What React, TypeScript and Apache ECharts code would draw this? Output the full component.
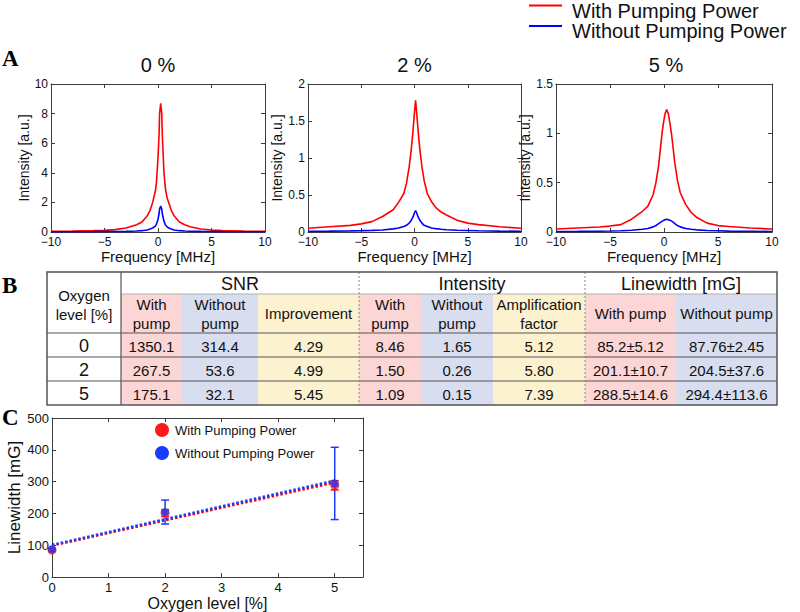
import React, { useEffect, useRef } from 'react';
import * as echarts from 'echarts';

// ---------- Panel A data ----------
const freq0 = [-10, -8, -6, -5, -4, -3, -2, -1.5, -1, -0.75, -0.5, -0.25, -0.15, 0, 0.1, 0.15, 0.25, 0.35, 0.4, 0.55, 0.7, 0.85, 1, 1.25, 1.5, 2, 2.5, 3, 4, 5, 6, 8, 10];
const red0 = [0.04, 0.06, 0.09, 0.11, 0.16, 0.27, 0.49, 0.68, 1.1, 1.45, 2.0, 2.75, 3.3, 5.0, 6.6, 8.0, 8.7, 8.0, 6.6, 4.1, 2.9, 2.3, 2.0, 1.45, 1.1, 0.68, 0.49, 0.36, 0.2, 0.13, 0.1, 0.06, 0.04];
const blue0 = [0.02, 0.02, 0.025, 0.03, 0.035, 0.045, 0.07, 0.09, 0.14, 0.2, 0.27, 0.4, 0.52, 0.85, 1.25, 1.55, 1.75, 1.55, 1.25, 0.75, 0.47, 0.35, 0.27, 0.2, 0.14, 0.09, 0.07, 0.055, 0.04, 0.03, 0.025, 0.02, 0.02];

const freq2 = [-10, -8, -6, -5, -4, -3, -2, -1.5, -1, -0.75, -0.5, -0.3, -0.15, 0, 0.1, 0.2, 0.35, 0.5, 0.7, 0.9, 1.2, 1.6, 2, 2.5, 3, 4, 5, 6, 8, 10];
const red2 = [0.05, 0.07, 0.09, 0.11, 0.14, 0.21, 0.3, 0.4, 0.52, 0.66, 0.88, 1.12, 1.35, 1.62, 1.78, 1.62, 1.35, 1.12, 0.88, 0.7, 0.52, 0.41, 0.33, 0.27, 0.23, 0.16, 0.12, 0.1, 0.07, 0.05];
const blue2 = [0.01, 0.012, 0.015, 0.018, 0.022, 0.028, 0.042, 0.055, 0.075, 0.09, 0.12, 0.16, 0.2, 0.26, 0.29, 0.26, 0.2, 0.16, 0.12, 0.09, 0.075, 0.055, 0.045, 0.037, 0.03, 0.024, 0.02, 0.016, 0.012, 0.01];

const freq5 = [-10, -8, -6, -5, -4, -3, -2, -1.5, -1, -0.75, -0.5, -0.3, -0.15, 0, 0.1, 0.25, 0.4, 0.55, 0.7, 0.85, 1, 1.25, 1.5, 2, 2.5, 3, 4, 5, 6, 8, 10];
const red5 = [0.03, 0.04, 0.05, 0.06, 0.075, 0.13, 0.21, 0.26, 0.38, 0.5, 0.67, 0.88, 1.03, 1.14, 1.2, 1.24, 1.2, 1.1, 0.99, 0.85, 0.7, 0.52, 0.4, 0.28, 0.2, 0.15, 0.09, 0.065, 0.055, 0.04, 0.03];
const blue5 = [0.005, 0.006, 0.008, 0.01, 0.013, 0.018, 0.028, 0.035, 0.052, 0.065, 0.085, 0.1, 0.11, 0.12, 0.125, 0.13, 0.125, 0.12, 0.11, 0.1, 0.085, 0.065, 0.052, 0.035, 0.028, 0.022, 0.015, 0.012, 0.009, 0.007, 0.005];

const panelTitles = ['0 %', '2 %', '5 %'];
const yMaxA = [10, 2, 1.5];
const yIntA = [2, 0.5, 0.5];

// ---------- Panel B table ----------
const groupHeaders = ['SNR', 'Intensity', 'Linewidth [mG]'];
const subHeaders = ['With\npump', 'Without\npump', 'Improvement', 'With\npump', 'Without\npump', 'Amplification\nfactor', 'With pump', 'Without pump'];
const oxygenRows = ['0', '2', '5'];
const snrWith = ['1350.1', '267.5', '175.1'];
const snrWithout = ['314.4', '53.6', '32.1'];
const snrImprovement = ['4.29', '4.99', '5.45'];
const intWith = ['8.46', '1.50', '1.09'];
const intWithout = ['1.65', '0.26', '0.15'];
const ampFactor = ['5.12', '5.80', '7.39'];
const lwWithText = ['85.2±5.12', '201.1±10.7', '288.5±14.6'];
const lwWithoutText = ['87.76±2.45', '204.5±37.6', '294.4±113.6'];

// ---------- Panel C data ----------
const oxygenLevels = [0, 2, 5];
const lwWith = [85.2, 201.1, 288.5];
const lwWithErr = [5.12, 10.7, 14.6];
const lwWithout = [87.76, 204.5, 294.4];
const lwWithoutErr = [2.45, 37.6, 113.6];
const fitWithX = [0, 5];
const fitWithY = [98.9, 297.6];
const fitWithoutX = [0, 5];
const fitWithoutY = [101.2, 303.4];

const SANS = 'Liberation Sans, Arial, sans-serif';
const SERIF = 'Liberation Serif, Times New Roman, serif';
const AX = '#3c3c3c';
const RED = '#ff0000';
const BLUE = '#0000ff';

const PINK = '#fcd6d4';
const LBLUE = '#d8deef';
const YEL = '#fdf2cf';

function fmtNum(v: number) {
  if (v < 0) return '\u2212' + String(Math.abs(v));
  return String(v);
}

function axesFor(gi: number, xr: number[], yr: number[], xName: string, yName: string, xNameGap: number, yNameGap: number, xNameSize: number, yNameSize: number, labelSize: number, xFmt: (v: number) => string) {
  const common = {
    gridIndex: gi,
    type: 'value',
    splitLine: { show: false },
    axisLine: { show: true, onZero: false, lineStyle: { color: AX, width: 1 } },
    axisTick: { show: true, inside: true, length: 4, lineStyle: { color: AX, width: 1 } },
  };
  const xs = [
    {
      ...common, position: 'bottom', min: xr[0], max: xr[1], interval: xr[2],
      axisLabel: { color: '#111', fontSize: labelSize, fontFamily: SANS, margin: 4, formatter: xFmt },
      name: xName, nameLocation: 'middle', nameGap: xNameGap,
      nameTextStyle: { color: '#111', fontSize: xNameSize, fontFamily: SANS },
    },
    { ...common, position: 'top', min: xr[0], max: xr[1], interval: xr[2], axisLabel: { show: false } },
  ];
  const ys = [
    {
      ...common, position: 'left', min: yr[0], max: yr[1], interval: yr[2],
      axisLabel: { color: '#111', fontSize: labelSize, fontFamily: SANS, margin: 3 },
      name: yName, nameLocation: 'middle', nameGap: yNameGap,
      nameTextStyle: { color: '#111', fontSize: yNameSize, fontFamily: SANS },
    },
    { ...common, position: 'right', min: yr[0], max: yr[1], interval: yr[2], axisLabel: { show: false } },
  ];
  return { xs, ys };
}

function buildTable() {
  const colX = [47, 121, 182, 258, 359, 421, 493, 585, 676, 777];
  const rowY = [272, 294, 333, 357, 381, 405];
  const colColors = [PINK, LBLUE, YEL, PINK, LBLUE, YEL, PINK, LBLUE];
  const els: any[] = [];
  colColors.forEach((c, i) => {
    els.push({ type: 'rect', shape: { x: colX[i + 1], y: rowY[1], width: colX[i + 2] - colX[i + 1], height: rowY[5] - rowY[1] }, style: { fill: c }, silent: true });
  });
  els.push({ type: 'line', shape: { x1: colX[1], y1: rowY[1], x2: colX[9], y2: rowY[1] }, style: { stroke: '#b0b0b0', lineWidth: 1 } });
  [2, 3, 4].forEach((r) => {
    els.push({ type: 'line', shape: { x1: colX[0], y1: rowY[r], x2: colX[9], y2: rowY[r] }, style: { stroke: '#555', lineWidth: 1.2 } });
  });
  els.push({ type: 'line', shape: { x1: colX[1], y1: rowY[0], x2: colX[1], y2: rowY[5] }, style: { stroke: '#555', lineWidth: 1.2 } });
  [4, 7].forEach((c) => {
    els.push({ type: 'line', shape: { x1: colX[c], y1: rowY[0], x2: colX[c], y2: rowY[5] }, style: { stroke: '#888', lineWidth: 1, lineDash: [2, 2] } });
  });
  els.push({ type: 'rect', shape: { x: colX[0], y: rowY[0], width: colX[9] - colX[0], height: rowY[5] - rowY[0] }, style: { fill: 'none', stroke: '#555', lineWidth: 1.5 } });

  const txt = (x: number, y: number, t: string, size: number, lh = 19) => ({
    type: 'text', x, y,
    style: { text: t, fill: '#111', font: `${size}px ${SANS}`, align: 'center', verticalAlign: 'middle', lineHeight: lh },
  });
  const groupSpans = [[1, 4], [4, 7], [7, 9]];
  groupHeaders.forEach((g, i) => {
    const cx = (colX[groupSpans[i][0]] + colX[groupSpans[i][1]]) / 2;
    els.push(txt(cx, (rowY[0] + rowY[1]) / 2 + 1, g, 18));
  });
  els.push(txt((colX[0] + colX[1]) / 2, 305, 'Oxygen\nlevel [%]', 15, 19));
  subHeaders.forEach((s, i) => {
    els.push(txt((colX[i + 1] + colX[i + 2]) / 2, (rowY[1] + rowY[2]) / 2, s, 15, 19));
  });
  const cols = [oxygenRows, snrWith, snrWithout, snrImprovement, intWith, intWithout, ampFactor, lwWithText, lwWithoutText];
  cols.forEach((col, c) => {
    col.forEach((v, r) => {
      els.push(txt((colX[c] + colX[c + 1]) / 2, (rowY[r + 2] + rowY[r + 3]) / 2 + 1, v, c === 0 ? 18 : 15));
    });
  });
  return els;
}

export default function App() {
  const ref = useRef<HTMLDivElement>(null);
  useEffect(() => {
    if (!ref.current) return;
    const chart = echarts.init(ref.current, undefined, { renderer: 'svg' });

    const grids = [
      { left: 51, top: 84, width: 214, height: 148 },
      { left: 308, top: 84, width: 213, height: 148 },
      { left: 556, top: 84, width: 216, height: 148 },
      { left: 52, top: 418, width: 311, height: 164 },
    ];
    const xAxes: any[] = [];
    const yAxes: any[] = [];
    const yGapA = [18, 20, 16];
    for (let i = 0; i < 3; i++) {
      const a = axesFor(i, [-10, 10, 5], [0, yMaxA[i], yIntA[i]], 'Frequency [MHz]', 'Intensity [a.u.]', 12, yGapA[i], 15, 14, 12, fmtNum);
      xAxes.push(...a.xs);
      yAxes.push(...a.ys);
    }
    const c = axesFor(3, [0, 5.5, 1], [0, 500, 100], 'Oxygen level [%]', 'Linewidth [mG]', 16, 26, 16, 17, 13, (v: number) => (v > 5 ? '' : String(v)));
    xAxes.push(...c.xs);
    yAxes.push(...c.ys);

    const freqs = [freq0, freq2, freq5];
    const reds = [red0, red2, red5];
    const blues = [blue0, blue2, blue5];
    const series: any[] = [];
    for (let i = 0; i < 3; i++) {
      series.push({
        type: 'line', name: 'With Pumping Power', xAxisIndex: 2 * i, yAxisIndex: 2 * i,
        data: freqs[i].map((x, k) => [x, reds[i][k]]), showSymbol: false, symbol: 'none',
        lineStyle: { color: RED, width: 1.6 }, z: 3,
      });
      series.push({
        type: 'line', name: 'Without Pumping Power', xAxisIndex: 2 * i, yAxisIndex: 2 * i,
        data: freqs[i].map((x, k) => [x, blues[i][k]]), showSymbol: false, symbol: 'none',
        lineStyle: { color: BLUE, width: 1.6 }, z: 3,
      });
    }
    series.push({
      type: 'line', xAxisIndex: 6, yAxisIndex: 6, symbol: 'none',
      data: fitWithX.map((x, k) => [x, fitWithY[k]]),
      lineStyle: { color: RED, width: 2.5, type: [2.5, 2] }, z: 2,
    });
    series.push({
      type: 'line', xAxisIndex: 6, yAxisIndex: 6, symbol: 'none',
      data: fitWithoutX.map((x, k) => [x, fitWithoutY[k]]),
      lineStyle: { color: '#1a3cff', width: 2.5, type: [2.5, 2] }, z: 2,
    });
    const errBar = (color: string) => (params: any, api: any) => {
      const x = api.value(0), y = api.value(1), e = api.value(2);
      const top = api.coord([x, y + e]);
      const bot = api.coord([x, y - e]);
      const hw = 4;
      const st = { stroke: color, lineWidth: 1.5 };
      return {
        type: 'group',
        children: [
          { type: 'line', shape: { x1: top[0], y1: top[1], x2: bot[0], y2: bot[1] }, style: st },
          { type: 'line', shape: { x1: top[0] - hw, y1: top[1], x2: top[0] + hw, y2: top[1] }, style: st },
          { type: 'line', shape: { x1: bot[0] - hw, y1: bot[1], x2: bot[0] + hw, y2: bot[1] }, style: st },
        ],
      };
    };
    series.push({
      type: 'custom', xAxisIndex: 6, yAxisIndex: 6, renderItem: errBar('#1a3cff'),
      data: oxygenLevels.map((x, k) => [x, lwWithout[k], lwWithoutErr[k]]), z: 4,
    });
    series.push({
      type: 'custom', xAxisIndex: 6, yAxisIndex: 6, renderItem: errBar(RED),
      data: oxygenLevels.map((x, k) => [x, lwWith[k], lwWithErr[k]]), z: 5,
    });
    series.push({
      type: 'scatter', xAxisIndex: 6, yAxisIndex: 6, symbol: 'circle', symbolSize: 9,
      itemStyle: { color: '#ff1a1a' }, data: oxygenLevels.map((x, k) => [x, lwWith[k]]), z: 6,
    });
    series.push({
      type: 'scatter', xAxisIndex: 6, yAxisIndex: 6, symbol: 'circle', symbolSize: 8,
      itemStyle: { color: '#1a3cff' }, data: oxygenLevels.map((x, k) => [x, lwWithout[k]]), z: 7,
    });

    const gridCentersA = [158, 414.5, 666];
    const graphic: any[] = [
      { type: 'line', shape: { x1: 529, y1: 5.5, x2: 562, y2: 5.5 }, style: { stroke: RED, lineWidth: 2 } },
      { type: 'line', shape: { x1: 529, y1: 26, x2: 562, y2: 26 }, style: { stroke: BLUE, lineWidth: 2 } },
      { type: 'text', x: 572, y: 11, style: { text: 'With Pumping Power', fill: '#111', font: `20px ${SANS}`, verticalAlign: 'middle' } },
      { type: 'text', x: 572, y: 31, style: { text: 'Without Pumping Power', fill: '#111', font: `20px ${SANS}`, verticalAlign: 'middle' } },
      { type: 'text', x: 2, y: 47, style: { text: 'A', fill: '#000', font: `bold 23px ${SERIF}`, verticalAlign: 'top' } },
      { type: 'text', x: 2, y: 274, style: { text: 'B', fill: '#000', font: `bold 23px ${SERIF}`, verticalAlign: 'top' } },
      { type: 'text', x: 2, y: 406, style: { text: 'C', fill: '#000', font: `bold 23px ${SERIF}`, verticalAlign: 'top' } },
      { type: 'circle', shape: { cx: 162, cy: 430, r: 7 }, style: { fill: '#ff1a1a' } },
      { type: 'circle', shape: { cx: 162, cy: 453, r: 7 }, style: { fill: '#1a3cff' } },
      { type: 'text', x: 175, y: 430, style: { text: 'With Pumping Power', fill: '#111', font: `13px ${SANS}`, verticalAlign: 'middle' } },
      { type: 'text', x: 175, y: 453, style: { text: 'Without Pumping Power', fill: '#111', font: `13px ${SANS}`, verticalAlign: 'middle' } },
      ...buildTable(),
    ];
    panelTitles.forEach((t, i) => {
      graphic.push({ type: 'text', x: gridCentersA[i], y: 65, style: { text: t, fill: '#111', font: `20px ${SANS}`, align: 'center', verticalAlign: 'middle' } });
    });

    chart.setOption({
      animation: false,
      backgroundColor: '#fff',
      grid: grids.map((g) => ({ ...g, containLabel: false, show: false })),
      xAxis: xAxes,
      yAxis: yAxes,
      series,
      graphic,
    });
    return () => chart.dispose();
  }, []);
  return <div ref={ref} style={{ position: 'absolute', left: 0, top: 0, width: 800, height: 612 }} />;
}
